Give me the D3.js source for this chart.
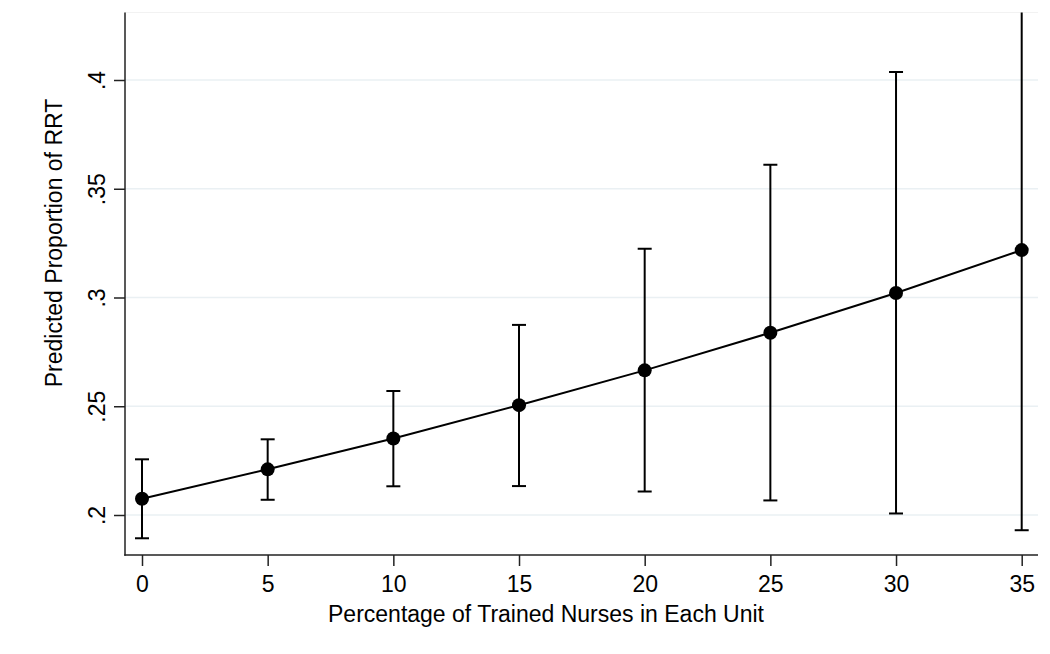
<!DOCTYPE html>
<html>
<head>
<meta charset="utf-8">
<script src="https://cdn.jsdelivr.net/npm/d3@7"></script>
<style>
  html, body { margin: 0; padding: 0; background: #fff; }
  svg { display: block; }
  text { font-family: "Liberation Sans", Arial, Helvetica, sans-serif; fill: #000; }
</style>
</head>
<body>
<svg id="chart" width="1050" height="654"></svg>
<script>
// Data
const pct = [0, 5, 10, 15, 20, 25, 30, 35];
const predicted = [0.2075, 0.2210, 0.2352, 0.2505, 0.2665, 0.2838, 0.3021, 0.3218];
const lower = [0.1893, 0.2070, 0.2132, 0.2133, 0.2108, 0.2067, 0.2007, 0.1930];
const upper = [0.2256, 0.2348, 0.2570, 0.2874, 0.3224, 0.3610, 0.4037, 0.4510];
const xTicks = [0, 5, 10, 15, 20, 25, 30, 35];
const yTicks = [0.2, 0.25, 0.3, 0.35, 0.4];
const yTickLabels = [".2", ".25", ".3", ".35", ".4"];
const xTitle = "Percentage of Trained Nurses in Each Unit";
const yTitle = "Predicted Proportion of RRT";

const svg = d3.select("#chart");
const plot = { left: 125, right: 1038, top: 12.5, bottom: 555 };

const x = d3.scaleLinear().domain([0, 35]).range([142, 1021.7]);
const y = d3.scaleLinear().domain([0.2, 0.4]).range([515, 80]);

svg.append("defs").append("clipPath").attr("id", "clip")
  .append("rect")
  .attr("x", plot.left).attr("y", plot.top)
  .attr("width", plot.right - plot.left + 10).attr("height", plot.bottom - plot.top);

// faint top border of plot region
svg.append("line")
  .attr("x1", plot.left).attr("x2", plot.right)
  .attr("y1", plot.top).attr("y2", plot.top)
  .attr("stroke", "#f2f2f2").attr("stroke-width", 1);

// gridlines
svg.append("g").selectAll("line").data(yTicks).join("line")
  .attr("x1", plot.left).attr("x2", plot.right)
  .attr("y1", d => y(d)).attr("y2", d => y(d))
  .attr("stroke", "#eaf0f3").attr("stroke-width", 1.6);

// Y axis
const yAxis = d3.axisLeft(y).tickValues(yTicks)
  .tickFormat((d, i) => yTickLabels[i]).tickSize(11).tickPadding(0);
const gy = svg.append("g").attr("transform", `translate(${plot.left},0)`).call(yAxis);
gy.select(".domain").remove();
gy.selectAll(".tick line").attr("stroke", "#222").attr("stroke-width", 1.5);
gy.selectAll(".tick text")
  .attr("transform", "rotate(-90)")
  .attr("x", 0).attr("y", -20).attr("dy", 0)
  .attr("text-anchor", "middle")
  .style("font-size", "23px");
svg.append("line")
  .attr("x1", plot.left).attr("x2", plot.left)
  .attr("y1", plot.top).attr("y2", plot.bottom + 0.75)
  .attr("stroke", "#222").attr("stroke-width", 1.5);

// X axis
const xAxis = d3.axisBottom(x).tickValues(xTicks).tickSize(11).tickPadding(0)
  .tickFormat(d3.format("d"));
const gx = svg.append("g").attr("transform", `translate(0,${plot.bottom})`).call(xAxis);
gx.select(".domain").remove();
gx.selectAll(".tick line").attr("stroke", "#222").attr("stroke-width", 1.5);
gx.selectAll(".tick text")
  .attr("y", 37).attr("dy", 0)
  .style("font-size", "23px");
svg.append("line")
  .attr("x1", plot.left - 0.75).attr("x2", plot.right)
  .attr("y1", plot.bottom).attr("y2", plot.bottom)
  .attr("stroke", "#222").attr("stroke-width", 1.5);

// Titles
svg.append("text")
  .attr("x", 546).attr("y", 621.5)
  .attr("text-anchor", "middle")
  .style("font-size", "23px")
  .text(xTitle);
svg.append("text")
  .attr("transform", "translate(62,243) rotate(-90)")
  .attr("text-anchor", "middle")
  .style("font-size", "23px")
  .text(yTitle);

const g = svg.append("g").attr("clip-path", "url(#clip)");
const rows = pct.map((p, i) => ({ p, v: predicted[i], lo: lower[i], hi: upper[i] }));

// error bars
g.selectAll(".eb").data(rows).join("line")
  .attr("x1", d => x(d.p)).attr("x2", d => x(d.p))
  .attr("y1", d => y(d.lo)).attr("y2", d => y(d.hi))
  .attr("stroke", "#000").attr("stroke-width", 2);
g.selectAll(".capLo").data(rows).join("line")
  .attr("x1", d => x(d.p) - 7).attr("x2", d => x(d.p) + 7)
  .attr("y1", d => y(d.lo)).attr("y2", d => y(d.lo))
  .attr("stroke", "#000").attr("stroke-width", 2);
g.selectAll(".capHi").data(rows).join("line")
  .attr("x1", d => x(d.p) - 7).attr("x2", d => x(d.p) + 7)
  .attr("y1", d => y(d.hi)).attr("y2", d => y(d.hi))
  .attr("stroke", "#000").attr("stroke-width", 2);

// line
g.append("path").datum(rows)
  .attr("fill", "none").attr("stroke", "#000").attr("stroke-width", 2)
  .attr("d", d3.line().x(d => x(d.p)).y(d => y(d.v)));

// markers
g.selectAll("circle").data(rows).join("circle")
  .attr("cx", d => x(d.p)).attr("cy", d => y(d.v)).attr("r", 7)
  .attr("fill", "#000");
</script>
</body>
</html>
